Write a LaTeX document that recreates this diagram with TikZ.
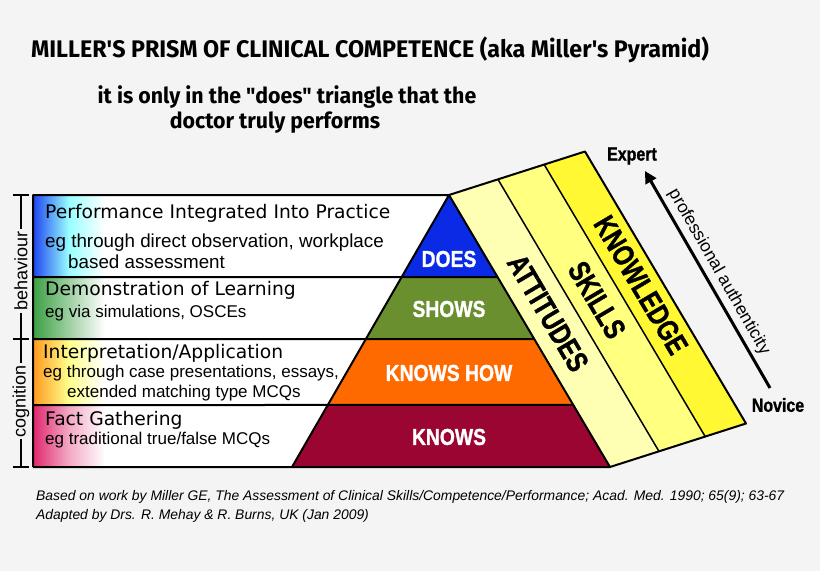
\documentclass[tikz,border=0pt]{standalone}
\usepackage{fontspec}
\setmainfont{Liberation Sans}
\newfontfamily\headfont{DejaVu Sans}
\newfontfamily\blockfont[FakeStretch=0.84,FakeBold=1.2]{Liberation Sans}
\newfontfamily\stripfont[FakeStretch=0.78,FakeBold=1.2]{Liberation Sans}
\newfontfamily\titlefont[FakeStretch=0.97]{Fira Sans}
\newfontfamily\notefont{Liberation Sans}
\usetikzlibrary{calc,arrows.meta}

\definecolor{bg}{HTML}{F4F4F4}
\definecolor{doesblue}{HTML}{0A2AE6}
\definecolor{showsgreen}{HTML}{6A8F2E}
\definecolor{knowshoworange}{HTML}{FF6A00}
\definecolor{knowsred}{HTML}{9A0532}
\definecolor{stripA}{HTML}{FFFFB4}
\definecolor{stripB}{HTML}{FFFF80}
\definecolor{stripC}{HTML}{FFF833}
\definecolor{rowblue}{HTML}{1E46F0}
\definecolor{rowgreen}{HTML}{3CA044}
\definecolor{roworange}{HTML}{FF9A1E}
\definecolor{rowpink}{HTML}{E0286E}

\begin{document}
\begin{tikzpicture}[x=1pt, y=-1pt, line join=round,
    rowhead/.style={anchor=west, inner sep=0pt, font=\headfont\fontsize{18.7}{20}\selectfont},
    rowtext/.style={anchor=west, inner sep=0pt, font=\fontsize{17}{19}\selectfont},
    level/.style={text=white, inner sep=0pt, font=\blockfont\bfseries\fontsize{23}{25}\selectfont},
    striplabel/.style={inner sep=0pt, rotate=-59.4, font=\stripfont\bfseries\fontsize{30}{32}\selectfont},
    outline/.style={draw=black, line width=2pt},
    sidelabel/.style={fill=bg, inner sep=2pt, rotate=90, font=\fontsize{18}{20}\selectfont},
    endlabel/.style={inner sep=0pt, font=\blockfont\bfseries\fontsize{19}{21}\selectfont}]
    \useasboundingbox (0,0) rectangle (820,571);
    \fill[bg] (0,0) rectangle (820,571);

    \coordinate (apex) at (449,195);
    \coordinate (baseL) at (292,467);
    \coordinate (baseR) at (610,467);
    \coordinate (prismT) at (585,151.5);
    \coordinate (prismB) at (746,423.5);
    \coordinate (l1) at ($(apex)!0.3015!(baseL)$);
    \coordinate (r1) at ($(apex)!0.3015!(baseR)$);
    \coordinate (l2) at ($(apex)!0.5294!(baseL)$);
    \coordinate (r2) at ($(apex)!0.5294!(baseR)$);
    \coordinate (l3) at ($(apex)!0.772!(baseL)$);
    \coordinate (r3) at ($(apex)!0.772!(baseR)$);
    \coordinate (d1t) at ($(apex)!0.36!(prismT)$);
    \coordinate (d1b) at ($(baseR)!0.36!(prismB)$);
    \coordinate (d2t) at ($(apex)!0.70!(prismT)$);
    \coordinate (d2b) at ($(baseR)!0.70!(prismB)$);

    % prism side
    \fill[stripA] (apex) -- (d1t) -- (d1b) -- (baseR) -- cycle;
    \fill[stripB] (d1t) -- (d2t) -- (d2b) -- (d1b) -- cycle;
    \fill[stripC] (d2t) -- (prismT) -- (prismB) -- (d2b) -- cycle;
    \draw[line width=1.5pt] (d1t) -- (d1b);
    \draw[line width=1.5pt] (d2t) -- (d2b);

    % pyramid
    \fill[doesblue] (apex) -- (l1) -- (r1) -- cycle;
    \fill[showsgreen] (l1) -- (l2) -- (r2) -- (r1) -- cycle;
    \fill[knowshoworange] (l2) -- (l3) -- (r3) -- (r2) -- cycle;
    \fill[knowsred] (l3) -- (baseL) -- (baseR) -- (r3) -- cycle;

    % left panel
    \fill[white] (33,195) -- (apex) -- (baseL) -- (33,467) -- cycle;
    \shade[left color=rowblue, right color=white, middle color=cyan!40] (33,195) rectangle (105,277);
    \shade[left color=rowgreen, right color=white, middle color=rowgreen!50] (33,277) rectangle (105,339);
    \shade[left color=roworange, right color=white, middle color=yellow!45] (33,339) rectangle (105,405);
    \shade[left color=rowpink, right color=white, middle color=rowpink!40] (33,405) rectangle (105,467);

    \draw[outline] (33,277) -- (r1);
    \draw[outline] (33,339) -- (r2);
    \draw[outline] (33,405) -- (r3);
    \draw[outline] (33,467) -- (33,195) -- (apex) -- (baseL);
    \draw[outline] (33,467) -- (baseR) -- (apex);
    \draw[outline] (apex) -- (prismT) -- (prismB) -- (baseR);

    \node[rowhead] (perfhead) at (45,213) {Performance Integrated Into Practice};
    \node[rowtext, font=\fontsize{18.8}{20}\selectfont] (perftext) at (45,243) {eg through direct observation, workplace};
    \node[rowtext, font=\fontsize{18.8}{20}\selectfont] (perftext2) at (68,262) {based assessment};
    \node[rowhead] (demohead) at (45,290) {Demonstration of Learning};
    \node[rowtext] (demotext) at (45,313) {eg via simulations, OSCEs};
    \node[rowhead] (interhead) at (43,353) {Interpretation/Application};
    \node[rowtext] (intertext) at (43,373) {eg through case presentations, essays,};
    \node[rowtext] (intertext2) at (67,393) {extended matching type MCQs};
    \node[rowhead] (facthead) at (45,420) {Fact Gathering};
    \node[rowtext] (facttext) at (45,440) {eg traditional true/false MCQs};

    \node[level] (does) at (449,259) {DOES};
    \node[level] (shows) at (449,309) {SHOWS};
    \node[level] (knowshow) at (449,373) {KNOWS HOW};
    \node[level] (knows) at (449,437) {KNOWS};

    \node[striplabel] (attitudes) at (548,313) {ATTITUDES};
    \node[striplabel] (skills) at (597,300) {SKILLS};
    \node[striplabel] (knowledge) at (641,285) {KNOWLEDGE};

    % behaviour / cognition bracket
    \draw[line width=1.5pt] (21,195) -- (21,467);
    \draw[line width=1.5pt] (13,195) -- (29,195);
    \draw[line width=1.5pt] (13,339) -- (29,339);
    \draw[line width=1.5pt] (13,467) -- (29,467);
    \node[sidelabel] (behaviour) at (21,271) {behaviour};
    \node[sidelabel] (cognition) at (21,401) {cognition};

    % novice to expert
    \coordinate (novicept) at (770,388);
    \coordinate (expertpt) at (645,171);
    \draw[line width=3pt, -{Triangle[length=12pt,width=12pt]}] (novicept) -- (expertpt);
    \node[endlabel] (expert) at (632,156) {Expert};
    \node[endlabel] (novice) at (778,405) {Novice};
    \node[inner sep=0pt, rotate=-60.2, font=\fontsize{17.5}{19}\selectfont] (authenticity) at (719,272) {professional authenticity};

    \node[font=\titlefont\bfseries\fontsize{24}{27}\selectfont] (title) at (370,50) {MILLER'S PRISM OF CLINICAL COMPETENCE (aka Miller's Pyramid)};
    \node[font=\titlefont\bfseries\fontsize{22}{25}\selectfont] (subtitle) at (287,97) {it is only in the "does" triangle that the};
    \node[font=\titlefont\bfseries\fontsize{22}{25}\selectfont] (subtitle2) at (275,123) {doctor truly performs};

    \node[anchor=west, inner sep=0pt, font=\notefont\itshape\fontsize{13.9}{15}\selectfont] (basedon) at (36,497) {Based on work by Miller GE, The Assessment of Clinical Skills/Competence/Performance; Acad. Med. 1990; 65(9); 63-67};
    \node[anchor=west, inner sep=0pt, font=\notefont\itshape\fontsize{13.9}{15}\selectfont] (adapted) at (36,516) {Adapted by Drs. R. Mehay \& R. Burns, UK (Jan 2009)};
\end{tikzpicture}
\end{document}
